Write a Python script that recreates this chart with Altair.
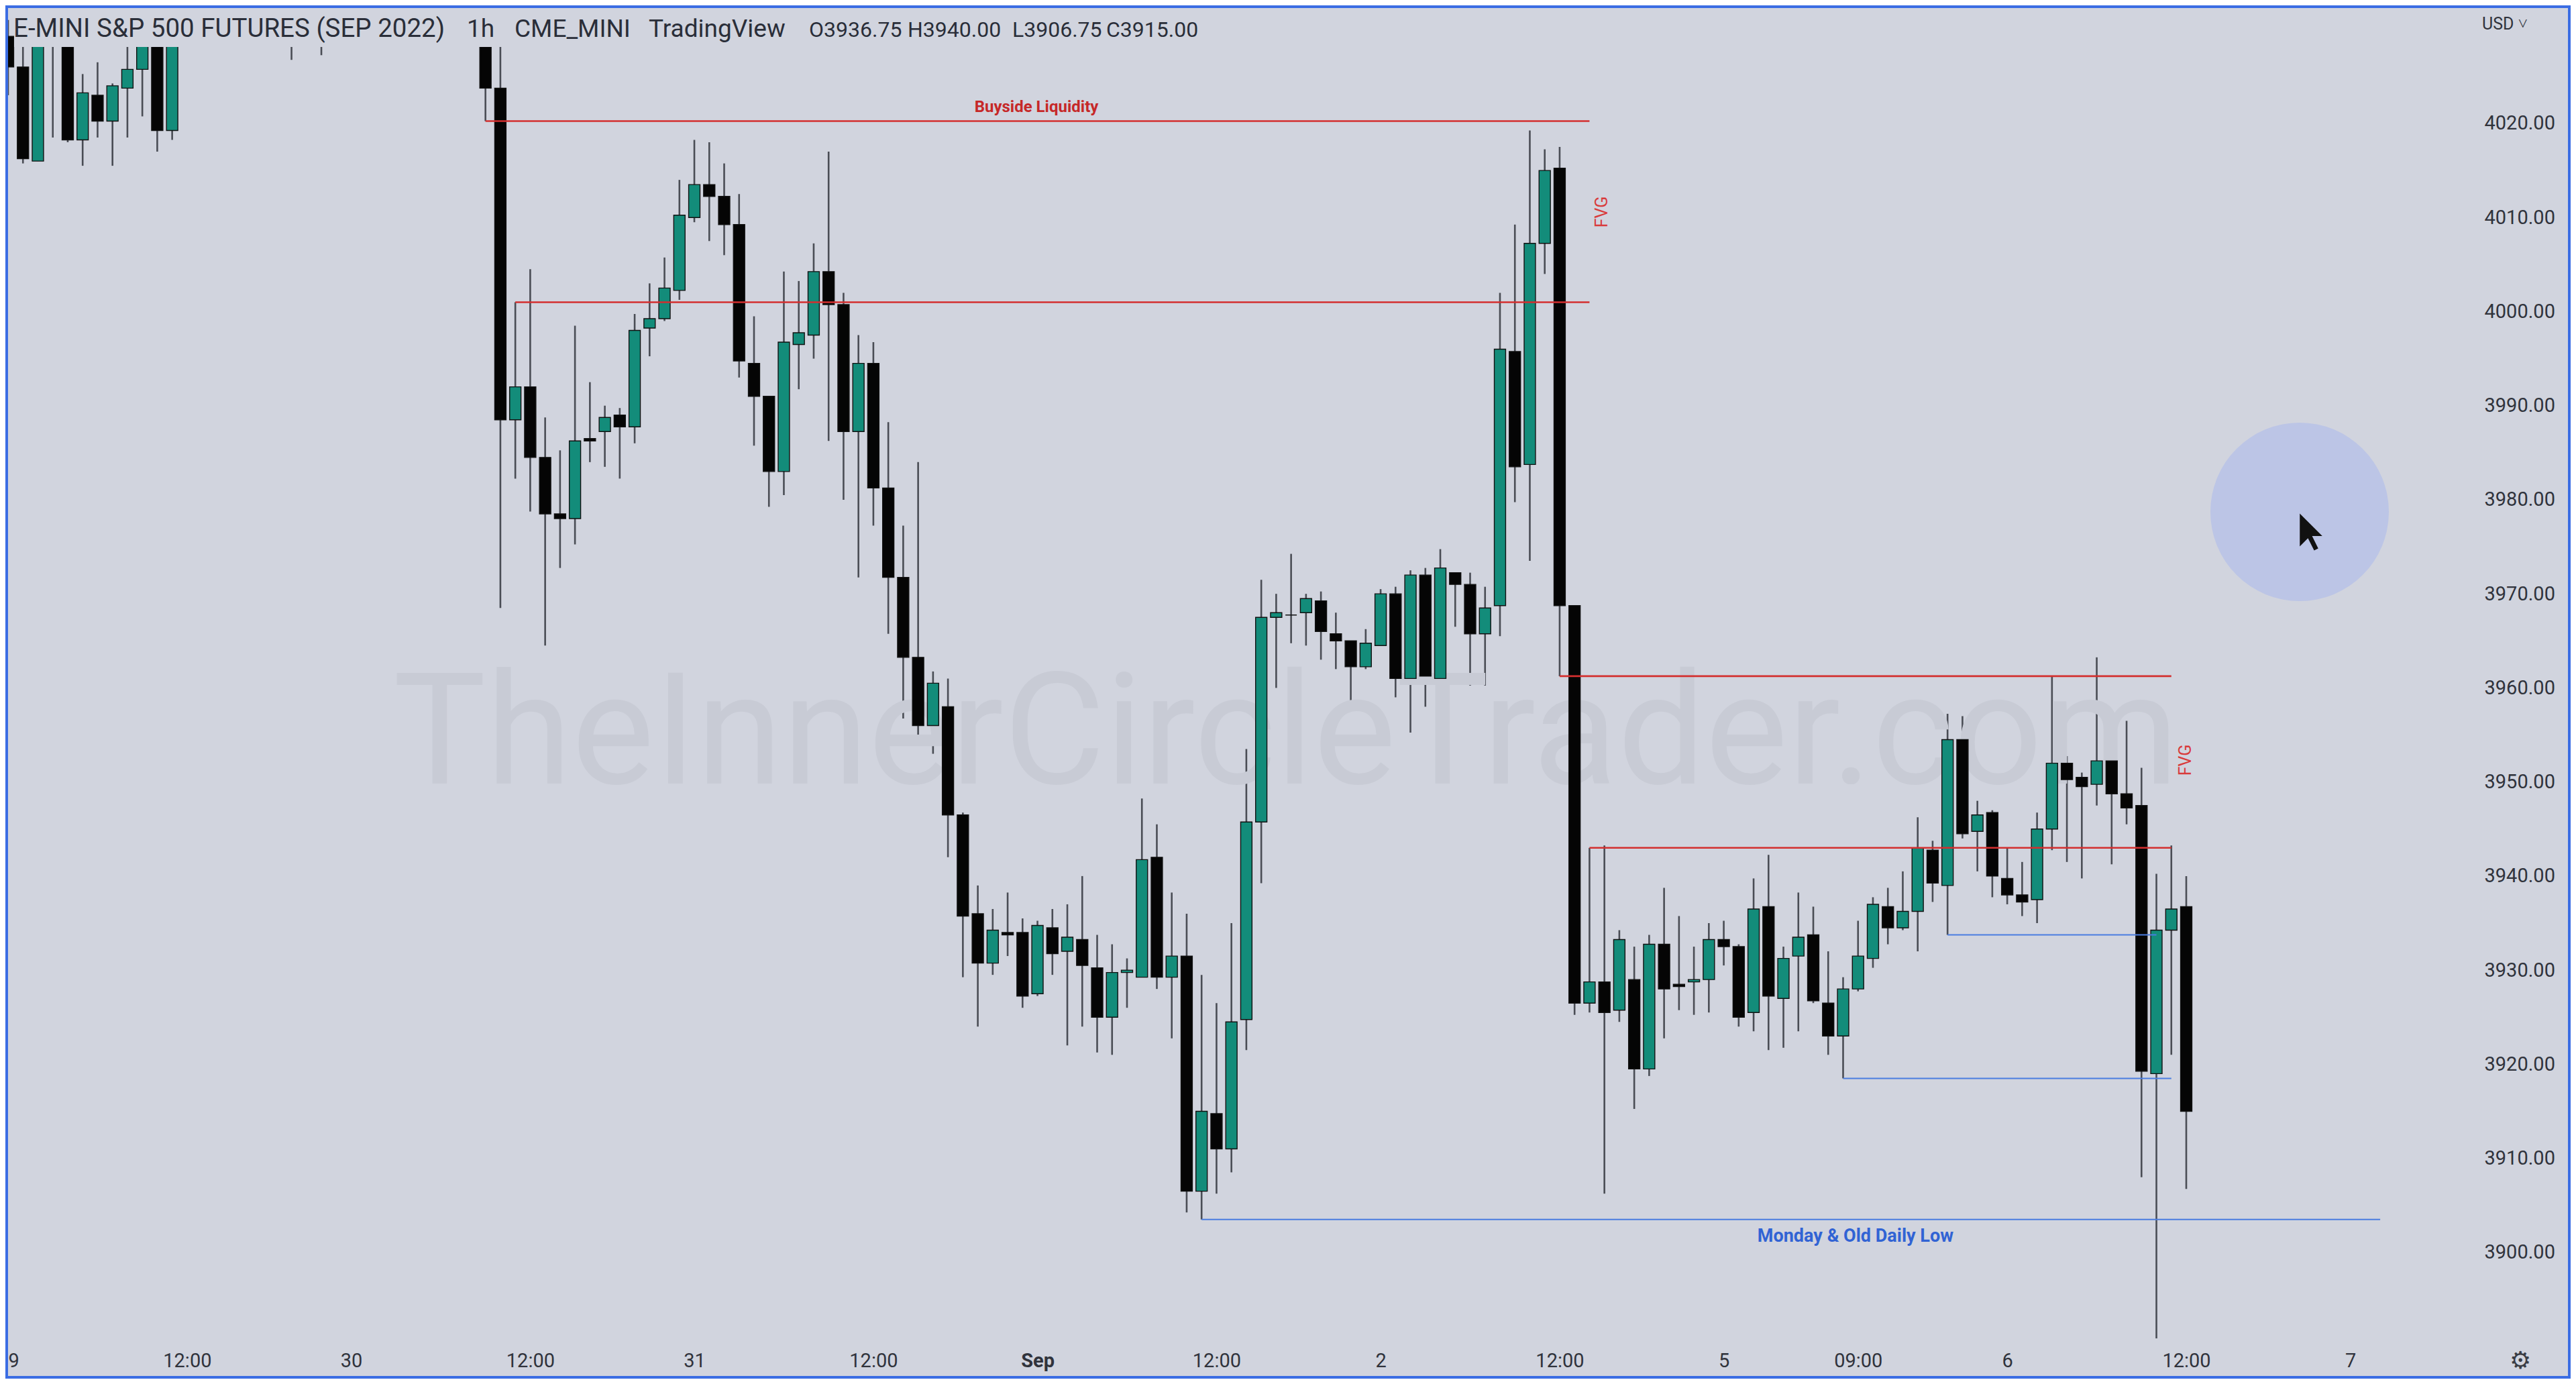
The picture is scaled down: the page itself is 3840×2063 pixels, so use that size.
import altair as alt
import pandas as pd

# ---------------- data ----------------
opens = [4029.25, 4026, 4016, 4031, 4036, 4018.25, 4023, 4020.25, 4023.75, 4025.75,
         4034, 4019.25, 4036.5, 4039.5, 4037, 4038.5, 4032.75, 4036.75, 4039.25, 4041,
         4043.25, 4032.5, 4047.5, 4054, 4057.5, 4055, 4059.25, 4064, 4072.5, 4079,
         4073, 4054, 4042, 4023.75, 3988.5, 3992, 3984.5, 3978.5, 3978, 3986.5,
         3987.25, 3989, 3987.75, 3998.25, 3999.25, 4002.25, 4010, 4013.5, 4012.25, 4009.25,
         3994.5, 3991, 3983, 3996.5, 3997.5, 4004.25, 4000.75, 3987.25, 3994.5, 3981.25,
         3971.75, 3963.25, 3956, 3958, 3946.5, 3936, 3930.75, 3934, 3934, 3927.5,
         3934.5, 3932, 3933.25, 3930.25, 3925, 3929.75, 3929.25, 3942, 3929.25, 3931.5,
         3906.5, 3914.75, 3911, 3924.75, 3945.75, 3967.5, 3967.75, 3968, 3969.25, 3965.75,
         3965, 3962.25, 3964.5, 3970, 3961, 3972, 3961, 3972.25, 3971, 3965.75,
         3968.75, 3995.75, 3983.75, 4007.25, 4015.25, 3968.75, 3926.5, 3928.75, 3925.75, 3929,
         3919.5, 3932.75, 3928.5, 3928.75, 3929, 3933.25, 3932.5, 3925.5, 3936.75, 3927,
         3931.5, 3933.75, 3926.5, 3923, 3928, 3931.25, 3936.75, 3934.5, 3936.25, 3942.75,
         3939, 3954.5, 3944.75, 3946.75, 3939.75, 3938, 3937.5, 3945, 3952, 3950.5,
         3949.75, 3952.25, 3948.75, 3947.5, 3919, 3934.25, 3936.75]
highs = [4031, 4029, 4033.5, 4032, 4037, 4025.25, 4026.5, 4024.25, 4029, 4035,
         4036, 4038, 4041, 4042.5, 4040, 4040, 4038.5, 4041, 4043, 4045.5,
         4045, 4049, 4056, 4060, 4063, 4061, 4066, 4075, 4081, 4090,
         4076, 4060, 4045, 4030, 4001, 4004.5, 3988.75, 3985.25, 3998.5, 3992.5,
         3990, 3989.75, 3999.75, 4003, 4005.75, 4014, 4018.25, 4018, 4015.75, 4012.5,
         3999.5, 3991, 4004.25, 4003.25, 4007.25, 4017, 4002, 3997.5, 3996.75, 3988.25,
         3977.25, 3984, 3961.75, 3961, 3946.75, 3939, 3936.5, 3938.25, 3935.5, 3935.25,
         3936.5, 3937, 3940, 3933.75, 3932.75, 3931.25, 3948.25, 3945.5, 3938.25, 3936,
         3929.5, 3926.5, 3935, 3953.5, 3971.5, 3970, 3974.25, 3970, 3970.25, 3968,
         3965, 3966.25, 3970.5, 3970.75, 3972.5, 3972.75, 3974.75, 3972.25, 3972.25, 3970.75,
         4002, 4009.25, 4019.25, 4017.25, 4017.5, 3968.75, 3943, 3943.25, 3934.25, 3932.5,
         3933.75, 3938.75, 3935.75, 3932.5, 3935, 3935.25, 3932.75, 3939.75, 3942.25, 3932.5,
         3938.25, 3936.75, 3932, 3929.25, 3935.25, 3937.75, 3938.75, 3940.5, 3946.25, 3943.75,
         3957.25, 3957, 3948, 3947, 3943, 3941.5, 3946.75, 3961.25, 3952.75, 3951,
         3963.25, 3953.75, 3956.5, 3951.5, 3940.25, 3943.25, 3940]
lows = [4023, 4015.75, 4016, 4018.5, 4018, 4015.5, 4018.5, 4015.5, 4018.5, 4020.75,
        4017, 4018.25, 4034, 4035.5, 4034.25, 4032, 4032.25, 4034.5, 4032.25, 4026.75,
        4031.5, 4027.25, 4045, 4050, 4052, 4051, 4055, 4062, 4068, 4070,
        4050, 4038, 4020.25, 3968.5, 3982.25, 3978.75, 3964.5, 3972.75, 3975.25, 3984,
        3983.5, 3982.25, 3986, 3995.25, 3999, 4001.25, 4009.5, 4007.5, 4006, 3993,
        3985.75, 3979.25, 3980.5, 3991.75, 3995, 3986.25, 3980, 3971.75, 3977.25, 3965.75,
        3956.75, 3955, 3953, 3942, 3929.25, 3924, 3929.5, 3931.5, 3926, 3927.25,
        3929.5, 3922, 3924, 3921.25, 3921, 3926, 3929.25, 3928, 3922.75, 3904.25,
        3903.5, 3906.25, 3908.5, 3921.5, 3939.25, 3960, 3964.75, 3964.5, 3963, 3962,
        3958.25, 3962, 3964.5, 3959, 3955.25, 3958, 3961, 3966.5, 3960.25, 3960.25,
        3965.5, 3979.75, 3973.5, 4004, 3961.25, 3925.25, 3925.5, 3906.25, 3924.5, 3915.25,
        3918.75, 3922.75, 3925.75, 3925.25, 3925.5, 3930.5, 3924, 3923.5, 3921.5, 3921.75,
        3923.5, 3926.5, 3921, 3918.5, 3927.75, 3930.25, 3932.75, 3934.25, 3932, 3937.25,
        3933.75, 3944, 3940.5, 3937.75, 3937, 3935.75, 3935, 3942.75, 3941.5, 3939.75,
        3947.5, 3941.25, 3945.5, 3908, 3889, 3921, 3906.75]
closes = [4026, 4016.25, 4031.5, 4029, 4018.25, 4023.25, 4020.25, 4024, 4025.75, 4034,
          4019.25, 4036.5, 4039.5, 4037, 4038.5, 4032.75, 4036.75, 4039.25, 4041, 4043.25,
          4032.5, 4047.5, 4054, 4057.5, 4055, 4059.25, 4064, 4072.5, 4079, 4073,
          4054, 4042, 4023.75, 3988.5, 3992, 3984.5, 3978.5, 3978, 3986.25, 3986.25,
          3988.75, 3987.75, 3998, 3999.25, 4002.5, 4010.25, 4013.5, 4012.25, 4009.25, 3994.75,
          3991, 3983, 3996.75, 3997.75, 4004.25, 4000.75, 3987.25, 3994.5, 3981.25, 3971.75,
          3963.25, 3956, 3960.5, 3946.5, 3935.75, 3930.75, 3934.25, 3933.75, 3927.25, 3934.75,
          3931.75, 3933.5, 3930.5, 3925, 3929.75, 3930, 3941.75, 3929.25, 3931.5, 3906.5,
          3915, 3911, 3924.5, 3945.75, 3967.5, 3968, 3967.75, 3969.5, 3966, 3965,
          3962.25, 3964.75, 3970, 3961, 3972, 3961.25, 3972.75, 3971, 3965.75, 3968.5,
          3996, 3983.5, 4007.25, 4015, 3968.75, 3926.5, 3928.75, 3925.5, 3933.25, 3919.5,
          3932.75, 3928, 3928.25, 3929, 3933.25, 3932.5, 3925, 3936.5, 3927.25, 3931.25,
          3933.5, 3926.75, 3923, 3928, 3931.5, 3937, 3934.5, 3936.25, 3943, 3939.25,
          3954.5, 3944.5, 3946.5, 3940, 3938, 3937.25, 3945, 3952, 3950.25, 3949.5,
          3952.25, 3948.75, 3947.25, 3919.25, 3934.25, 3936.5, 3915]

tick_idx = [0, 12, 23, 35, 46, 58, 69, 81, 92, 104, 115, 124, 134, 146, 157]
tick_txt = ["29", "12:00", "30", "12:00", "31", "12:00", "Sep", "12:00", "2", "12:00",
            "5", "09:00", "6", "12:00", "7"]
price_ticks = [3900, 3910, 3920, 3930, 3940, 3950, 3960, 3970, 3980, 3990, 4000, 4010, 4020]

level_price = [4020.25, 4001.0, 3961.25, 3943.0, 3933.75, 3918.5, 3903.5]
level_from = [32, 34, 104, 106, 130, 123, 80]
level_to = [106, 106, 145, 145, 144, 145, 159]
level_kind = ["red", "red", "red", "red", "blue", "blue", "blue"]

note_text = ["Buyside Liquidity", "FVG", "FVG", "Monday & Old Daily Low"]
note_i = [68.93, 106.83, 145.95, 123.83]
note_p = [4020.25, 4010.59, 3952.33, 3903.5]
note_kind = ["above", "vert", "vert", "below"]

# ---------------- tables ----------------
df = pd.DataFrame({"i": list(range(len(opens))), "o": opens, "h": highs, "l": lows, "c": closes})
levels = pd.DataFrame({"a": level_from, "b": level_to, "p": level_price, "kind": level_kind})
notes = pd.DataFrame({"t": note_text, "i": note_i, "p": note_p, "kind": note_kind})
one = pd.DataFrame({"k": [0]})

BG = "#d1d4de"
TEAL = "#138c7a"
RED = "#d32f2f"
BLUE = "#4a7de0"
FONT = "Roboto"

xs = alt.Scale(domain=[-0.18, 164.39], nice=False, zero=False)
ys = alt.Scale(domain=[3890.86, 4032.55], nice=False, zero=False)

label_expr = "".join(f"datum.value == {i} ? '{t}' : " for i, t in zip(tick_idx, tick_txt)) + "''"

x_axis = alt.Axis(values=tick_idx, labelExpr=label_expr, title=None, grid=False, domain=False,
                  ticks=False, tickSize=0, labelPadding=33, labelBaseline="middle",
                  labelFont=FONT, labelFontSize=29, labelColor="#30333c", labelFlush=False,
                  labelOverlap=False,
                  labelFontWeight={"condition": {"test": "datum.value == 69", "value": "bold"},
                                   "value": "normal"})
y_axis = alt.Axis(values=price_ticks, format=".2f", orient="right", title=None, grid=False,
                  domain=False, ticks=False, tickSize=0, labelPadding=35, labelAlign="left",
                  labelBaseline="middle", labelFont=FONT, labelFontSize=29,
                  labelColor="#30333c", labelOverlap=False)


def X(field):
    return alt.X(field, scale=xs, axis=x_axis)


def Y(field):
    return alt.Y(field, scale=ys, axis=y_axis)


# watermark
watermark = alt.Chart(one).mark_text(
    text="TheInnerCircleTrader.com", font=FONT, fontSize=232, color="#c8cbd5",
    align="center", baseline="alphabetic"
).encode(x=alt.value(1909), y=alt.value(1160))

# wicks
wicks = alt.Chart(df).mark_rule(clip=True, strokeWidth=2.6, color="#4a4d55").encode(
    x=X("i:Q"), y=Y("l:Q"), y2="h:Q",
)

# bodies
bodies = alt.Chart(df).transform_calculate(
    xl="datum.i - 0.38", xr="datum.i + 0.38"
).mark_rect(clip=True, stroke="#111111", strokeWidth=1.4).encode(
    x=X("xl:Q"), x2="xr:Q", y=Y("o:Q"), y2="c:Q",
    color=alt.condition("datum.c >= datum.o", alt.value(TEAL), alt.value("#050505")),
)

# level lines
lines = alt.Chart(levels).mark_rule(clip=True).encode(
    x=X("a:Q"), x2="b:Q", y=Y("p:Q"),
    color=alt.condition("datum.kind == 'red'", alt.value(RED), alt.value(BLUE)),
    strokeWidth=alt.condition("datum.kind == 'red'", alt.value(2.6), alt.value(2.0)),
)


def note_layer(kind, **kw):
    return alt.Chart(notes).transform_filter(f"datum.kind == '{kind}'").mark_text(
        font=FONT, **kw
    ).encode(x=X("i:Q"), y=Y("p:Q"), text="t:N")


note_above = note_layer("above", fontSize=24, fontWeight="bold", color="#c62828",
                        align="center", baseline="alphabetic", dy=-13)
note_vert = note_layer("vert", fontSize=25, color="#d93b3b", align="center",
                       baseline="middle", angle=270)
note_below = note_layer("below", fontSize=27, fontWeight="bold", color="#3163d4",
                        align="center", baseline="alphabetic", dy=33)

# header background strip and texts
strip = alt.Chart(one).mark_rect(color=BG).encode(
    x=alt.value(13), x2=alt.value(1795), y=alt.value(3), y2=alt.value(62)
)


def txt(t, x, y, size, color="#2a2e39", align="left", baseline="alphabetic", weight="normal"):
    return alt.Chart(one).mark_text(
        text=t, font=FONT, fontSize=size, color=color, align=align, baseline=baseline,
        fontWeight=weight
    ).encode(x=alt.value(x), y=alt.value(y))


header_parts = [
    ("E-MINI S&P 500 FUTURES (SEP 2022)", 12, 38.5),
    ("1h", 688, 37),
    ("CME_MINI", 759, 37),
    ("TradingView", 959, 37),
    (f"O{opens[-1]:.2f}", 1198, 32),
    (f"H{highs[-1]:.2f}", 1345, 32),
    (f"L{lows[-1]:.2f}", 1501, 32),
    (f"C{closes[-1]:.2f}", 1641, 32),
]
header = [txt(t, x, 47, s) for t, x, s in header_parts]

usd = txt("USD ˅", 3692, 36, 25, color="#30333c")
gear = txt("⚙", 3749, 2021, 36, color="#3a3d45", align="center", baseline="middle")

# cursor highlight + arrow
halo = alt.Chart(one).mark_point(filled=True, shape="circle", size=70756, color="#bcc5e6",
                                 opacity=1).encode(x=alt.value(3420), y=alt.value(755))
arrow_path = "M-0.5,-1L-0.5,0.778L-0.056,0.333L0.278,1L0.5,0.889L0.167,0.222L0.722,0.222Z"
arrow = alt.Chart(one).mark_point(filled=True, shape=arrow_path, size=3025, color="#111111",
                                  opacity=1).encode(x=alt.value(3434), y=alt.value(785))

frame = alt.Chart(one).mark_rect(fill=None, stroke="#3b6de3", strokeWidth=8).encode(
    x=alt.value(0), x2=alt.value(3824), y=alt.value(0), y2=alt.value(2047)
)

chart = alt.layer(
    wicks, watermark, bodies, lines, note_above, note_vert, note_below,
    strip, *header, usd, gear, halo, arrow, frame
).properties(
    width=3660, height=1987,
    autosize=alt.AutoSizeParams(type="none"),
    padding={"left": 0, "top": 0, "right": 164, "bottom": 60},
).configure(background=BG).configure_view(stroke=None)

chart.save("out.html", embed_options={"renderer": "svg", "actions": False})
